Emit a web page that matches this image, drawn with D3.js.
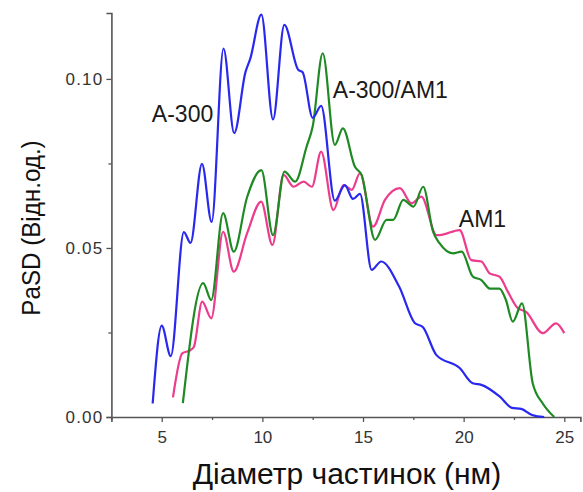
<!DOCTYPE html>
<html>
<head>
<meta charset="utf-8">
<script src="https://cdn.jsdelivr.net/npm/d3@7"></script>
<style>
  html, body { margin: 0; padding: 0; background: #fff; }
  svg { display: block; font-family: "Liberation Sans", Arial, sans-serif; }
</style>
</head>
<body>
<svg id="chart" width="583" height="492"></svg>
<script>
// Particle size distribution, diameter (nm) vs PaSD (rel. units)
const a300Diam = [4.55, 5.0, 5.45, 6.1, 6.43, 7.0, 7.48, 8.07, 8.6, 9.16, 9.4, 9.95, 10.53, 11.09, 11.78, 12.0, 12.5, 12.92, 13.6, 14.1, 14.5, 14.85, 15.43, 15.9, 16.8, 17.57, 17.97, 18.65, 19.8, 20.45, 20.88, 21.8, 22.4, 22.86, 23.4, 24.0];
const a300Val  = [0.004, 0.027, 0.018, 0.0547, 0.0515, 0.0749, 0.0577, 0.109, 0.084, 0.102, 0.106, 0.119, 0.088, 0.116, 0.1027, 0.102, 0.0885, 0.092, 0.064, 0.0686, 0.0645, 0.066, 0.0435, 0.046, 0.0385, 0.0278, 0.0266, 0.0183, 0.0145, 0.010, 0.0095, 0.006, 0.0027, 0.0024, 0.0006, 0.0];

const mixDiam = [6.05, 7.06, 7.46, 8.05, 8.58, 9.24, 9.95, 10.53, 11.1, 11.63, 12.2, 12.5, 13.0, 13.6, 14.0, 14.6, 14.93, 15.6, 16.17, 16.5, 17.0, 17.5, 17.99, 18.48, 18.8, 19.47, 19.9, 20.46, 20.88, 21.3, 21.78, 22.1, 22.44, 22.9, 23.43, 23.93, 24.5];
const mixVal  = [0.0041, 0.0396, 0.0346, 0.0603, 0.0489, 0.065, 0.073, 0.0538, 0.0726, 0.0696, 0.080, 0.0859, 0.1076, 0.0805, 0.0854, 0.074, 0.0716, 0.0524, 0.0583, 0.0583, 0.0642, 0.0622, 0.0681, 0.0548, 0.0514, 0.0484, 0.0489, 0.0415, 0.0405, 0.038, 0.038, 0.0346, 0.0282, 0.0336, 0.010, 0.004, 0.0];

const am1Diam = [5.56, 6.02, 6.43, 6.6, 7.01, 7.46, 8.05, 8.58, 9.24, 9.94, 10.5, 11.05, 11.55, 12.05, 12.46, 12.92, 13.53, 14.03, 14.44, 14.85, 15.5, 16.09, 16.83, 17.41, 17.9, 18.65, 18.8, 19.8, 20.38, 20.88, 21.29, 21.78, 22.2, 22.69, 23.1, 23.93, 24.59, 25.0];
const am1Val  = [0.0058, 0.0188, 0.0198, 0.0208, 0.0341, 0.0292, 0.0548, 0.043, 0.0543, 0.0637, 0.0509, 0.0716, 0.0681, 0.0696, 0.0681, 0.0785, 0.0612, 0.0686, 0.0672, 0.0721, 0.0563, 0.0642, 0.0677, 0.0632, 0.0652, 0.0538, 0.0538, 0.0553, 0.0464, 0.046, 0.0425, 0.0415, 0.037, 0.0322, 0.0311, 0.0248, 0.0277, 0.0248];

const xMajorTicks = [5, 10, 15, 20, 25];
const xMinorTicks = [2.5, 7.5, 12.5, 17.5, 22.5];
const yMajorTicks = [0, 0.05, 0.10];
const yMinorTicks = [0.025, 0.075];

const seriesNames  = ["A-300", "A-300/AM1", "AM1"];
const seriesColors = ["#2828ee", "#1f8a24", "#ec3c8c"];
const seriesLabelAt = [[4.51, 0.0873], [13.5, 0.0944], [19.76, 0.0562]];

const svg = d3.select("#chart");
const x = d3.scaleLinear().domain([2.5, 25.8]).range([111.4, 580.4]);
const y = d3.scaleLinear().domain([0, 0.1195]).range([417, 13]);

const axisColor = "#555";

// x axis
const gx = svg.append("g").attr("transform", "translate(0,417)");
gx.call(d3.axisBottom(x).tickValues(xMajorTicks).tickSize(5).tickPadding(9).tickFormat(d3.format("d")));
gx.append("g").call(d3.axisBottom(x).tickValues(xMinorTicks).tickSize(3).tickFormat(""))
  .select(".domain").remove();

// y axis
const gy = svg.append("g").attr("transform", "translate(111.4,0)");
gy.call(d3.axisLeft(y).tickValues(yMajorTicks).tickSize(5).tickPadding(3).tickFormat(d3.format(".2f")));
gy.append("g").call(d3.axisLeft(y).tickValues(yMinorTicks).tickSize(3).tickFormat(""))
  .select(".domain").remove();

svg.selectAll(".domain").attr("stroke", axisColor).attr("stroke-width", 1.6);
svg.selectAll(".tick line").attr("stroke", axisColor).attr("stroke-width", 1.3);
svg.selectAll(".tick text").attr("fill", "#333").style("font-size", "17px");
gy.selectAll(".tick text").style("letter-spacing", "1.2px");

// curves
const line = d3.line()
  .x(d => x(d[0]))
  .y(d => y(d[1]))
  .curve(d3.curveMonotoneX);

const series = [
  d3.zip(a300Diam, a300Val),
  d3.zip(mixDiam, mixVal),
  d3.zip(am1Diam, am1Val)
];

// draw order: pink, green, blue
[2, 1, 0].forEach(i => {
  svg.append("path")
    .datum(series[i])
    .attr("fill", "none")
    .attr("stroke", seriesColors[i])
    .attr("stroke-width", 2.2)
    .attr("stroke-linejoin", "round")
    .attr("d", line);
});

// series labels
svg.selectAll(".series-label")
  .data(seriesNames)
  .join("text")
  .attr("class", "series-label")
  .attr("x", (d, i) => x(seriesLabelAt[i][0]))
  .attr("y", (d, i) => y(seriesLabelAt[i][1]))
  .attr("fill", "#1a1a1a")
  .style("font-size", "23px")
  .text(d => d);

// axis titles
svg.append("text")
  .attr("x", 347)
  .attr("y", 484)
  .attr("text-anchor", "middle")
  .attr("fill", "#111")
  .style("font-size", "30px")
  .text("Діаметр частинок (нм)");

svg.append("text")
  .attr("transform", "translate(40,228) rotate(-90) scale(0.93,1)")
  .attr("text-anchor", "middle")
  .attr("fill", "#111")
  .style("font-size", "26px")
  .text("PaSD (Відн.од.)");
</script>
</body>
</html>
